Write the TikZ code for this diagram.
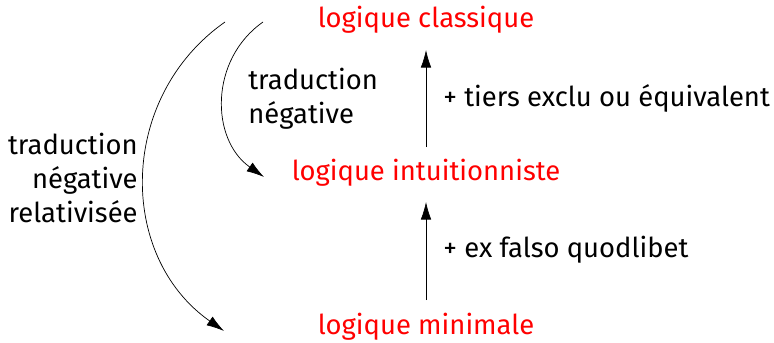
\documentclass[tikz,border=0pt]{standalone}
\usepackage{fontspec}
\setmainfont{Fira Sans}
\usetikzlibrary{arrows.meta}
\begin{document}
\begin{tikzpicture}[x=0.02cm,y=-0.02cm,font=\fontsize{15.6}{19.5}\selectfont,
        logic/.style={text=red,inner sep=0pt},
        lbl/.style={inner sep=0pt},
        tip/.style={-{Latex[length=10pt,width=6pt]}}]
        \useasboundingbox (0,0) rectangle (774,342);
        \node [logic] (classique) at (426,20) {logique classique};
        \node [logic] (intuition) at (426,173) {logique intuitionniste};
        \node [logic] (minimale) at (426,327) {logique minimale};
        \draw [tip] (426,300) -- (426,202);
        \draw [tip] (426,147) -- (426,50);
        \node [lbl,anchor=west] (tiers) at (443,98) {+ tiers exclu ou équivalent};
        \node [lbl,anchor=west] (efq) at (443,250) {+ ex falso quodlibet};
        % traductions
        \coordinate (neg-a) at (263,22);
        \coordinate (neg-b) at (264,177);
        \coordinate (rel-a) at (225,22);
        \coordinate (rel-b) at (224,331);
        \draw [tip] (neg-a) to [out=215,in=145,looseness=1.08] (neg-b);
        \draw [tip] (rel-a) to [out=215,in=145,looseness=1.08] (rel-b);
        \node [lbl,anchor=west,align=left] (neg) at (248,99) {traduction\\négative};
        \node [lbl,anchor=east,align=right] (rel) at (138,178) {traduction\\négative\\relativisée};
    \end{tikzpicture}
\end{document}
